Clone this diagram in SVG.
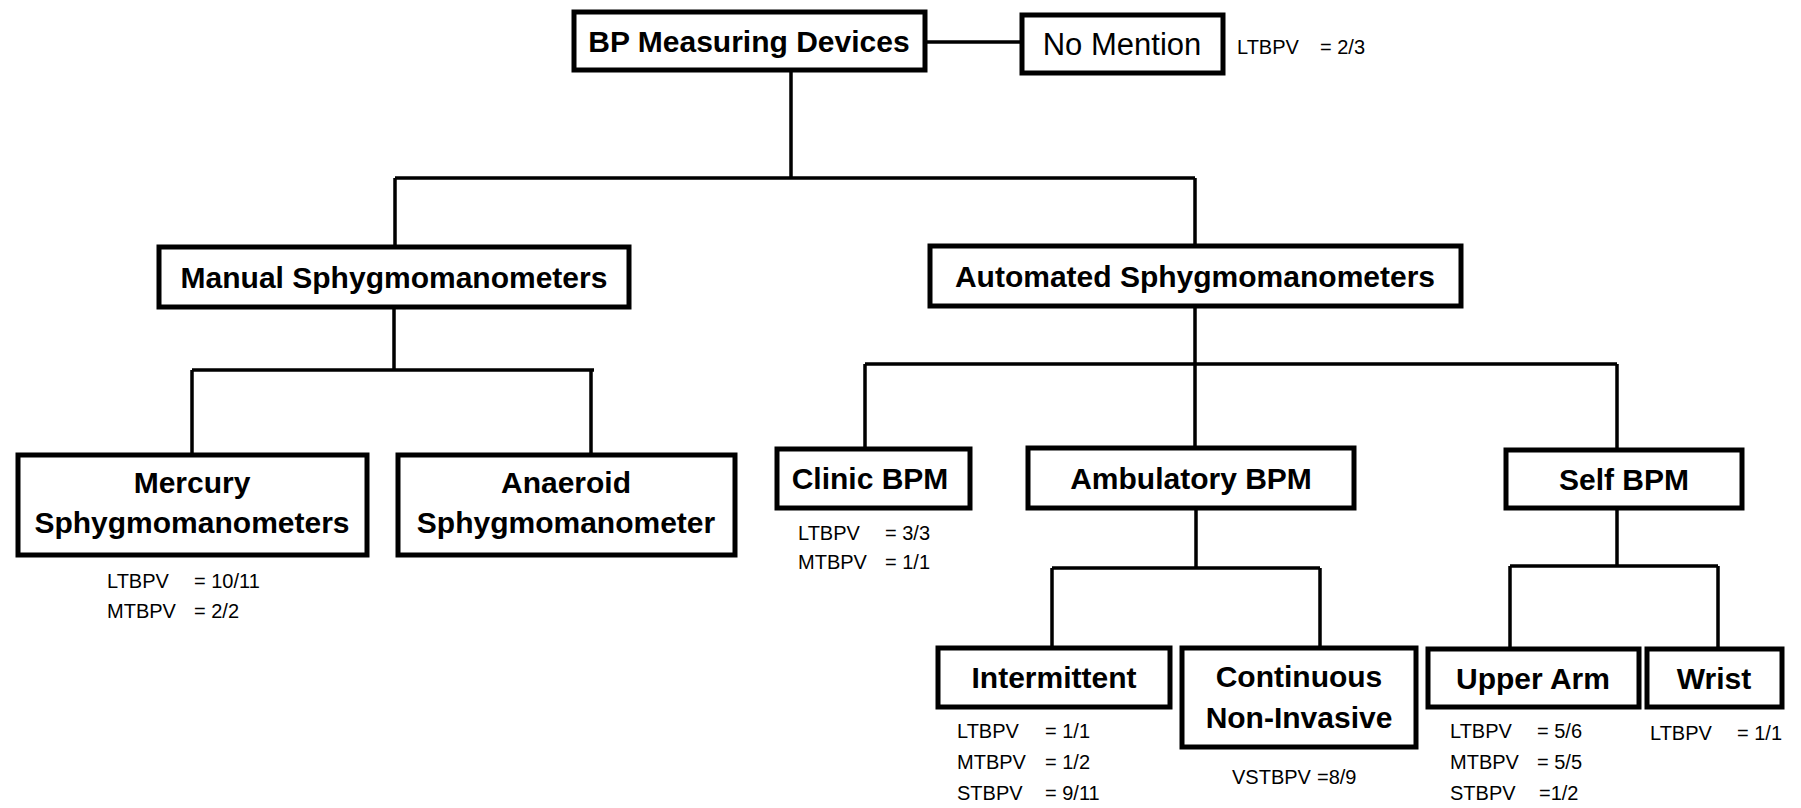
<svg xmlns="http://www.w3.org/2000/svg" width="1801" height="808" viewBox="0 0 1801 808">
<style>
.box{fill:#fff;stroke:#000;stroke-width:5}
.ln{fill:none;stroke:#000;stroke-width:3.5}
.t{font-family:"Liberation Sans",Arial,sans-serif;font-weight:bold;font-size:30px;fill:#000;text-anchor:middle}
.r{font-family:"Liberation Sans",Arial,sans-serif;font-size:31px;fill:#000;text-anchor:middle}
.s{font-family:"Liberation Sans",Arial,sans-serif;font-size:20px;fill:#000}
</style>
<rect width="1801" height="808" fill="#fff"/>
<g id="connectors">
<path class="ln" d="M925 42H1022"/>
<path class="ln" d="M791 70V178M395 178H1195M395 178V247M1195 178V246"/>
<path class="ln" d="M394 307V370M192 370H594M192 370V455M591 370V455"/>
<path class="ln" d="M1195 306V364M865 364H1617M865 364V449M1195 364V448M1617 364V450"/>
<path class="ln" d="M1196 508V568M1052 568H1320M1052 568V648M1320 568V648"/>
<path class="ln" d="M1617 508V566M1510 566H1718M1510 566V649M1718 566V649"/>
</g>
<g id="bp"><rect class="box" x="574" y="12" width="351" height="58"/><text class="t" x="749" y="52">BP Measuring Devices</text></g>
<g id="nomention"><rect class="box" x="1022" y="15" width="201" height="58"/><text class="r" x="1122" y="55">No Mention</text>
<text class="s" x="1237" y="54">LTBPV</text><text class="s" x="1320" y="54">= 2/3</text></g>
<g id="manual"><rect class="box" x="159" y="247" width="470" height="60"/><text class="t" x="394" y="288">Manual Sphygmomanometers</text></g>
<g id="automated"><rect class="box" x="930" y="246" width="531" height="60"/><text class="t" x="1195" y="287">Automated Sphygmomanometers</text></g>
<g id="mercury"><rect class="box" x="18" y="455" width="349" height="100"/><text class="t" x="192" y="493">Mercury</text><text class="t" x="192" y="533">Sphygmomanometers</text>
<text class="s" x="107" y="588">LTBPV</text><text class="s" x="194" y="588">= 10/11</text>
<text class="s" x="107" y="618">MTBPV</text><text class="s" x="194" y="618">= 2/2</text></g>
<g id="anaeroid"><rect class="box" x="398" y="455" width="337" height="100"/><text class="t" x="566" y="493">Anaeroid</text><text class="t" x="566" y="533">Sphygmomanometer</text></g>
<g id="clinic"><rect class="box" x="777" y="449" width="193" height="59"/><text class="t" x="870" y="489">Clinic BPM</text>
<text class="s" x="798" y="540">LTBPV</text><text class="s" x="885" y="540">= 3/3</text>
<text class="s" x="798" y="569">MTBPV</text><text class="s" x="885" y="569">= 1/1</text></g>
<g id="ambulatory"><rect class="box" x="1028" y="448" width="326" height="60"/><text class="t" x="1191" y="489">Ambulatory BPM</text></g>
<g id="self"><rect class="box" x="1506" y="450" width="236" height="58"/><text class="t" x="1624" y="490">Self BPM</text></g>
<g id="intermittent"><rect class="box" x="938" y="648" width="232" height="59"/><text class="t" x="1054" y="688">Intermittent</text>
<text class="s" x="957" y="738">LTBPV</text><text class="s" x="1045" y="738">= 1/1</text>
<text class="s" x="957" y="769">MTBPV</text><text class="s" x="1045" y="769">= 1/2</text>
<text class="s" x="957" y="800">STBPV</text><text class="s" x="1045" y="800">= 9/11</text></g>
<g id="continuous"><rect class="box" x="1182" y="648" width="234" height="99"/><text class="t" x="1299" y="687">Continuous</text><text class="t" x="1299" y="728">Non-Invasive</text>
<text class="s" x="1232" y="784">VSTBPV</text><text class="s" x="1317" y="784">=8/9</text></g>
<g id="upperarm"><rect class="box" x="1428" y="649" width="211" height="58"/><text class="t" x="1533" y="689">Upper Arm</text>
<text class="s" x="1450" y="738">LTBPV</text><text class="s" x="1537" y="738">= 5/6</text>
<text class="s" x="1450" y="769">MTBPV</text><text class="s" x="1537" y="769">= 5/5</text>
<text class="s" x="1450" y="800">STBPV</text><text class="s" x="1539" y="800">=1/2</text></g>
<g id="wrist"><rect class="box" x="1647" y="649" width="135" height="58"/><text class="t" x="1714" y="689">Wrist</text>
<text class="s" x="1650" y="740">LTBPV</text><text class="s" x="1737" y="740">= 1/1</text></g>
</svg>
